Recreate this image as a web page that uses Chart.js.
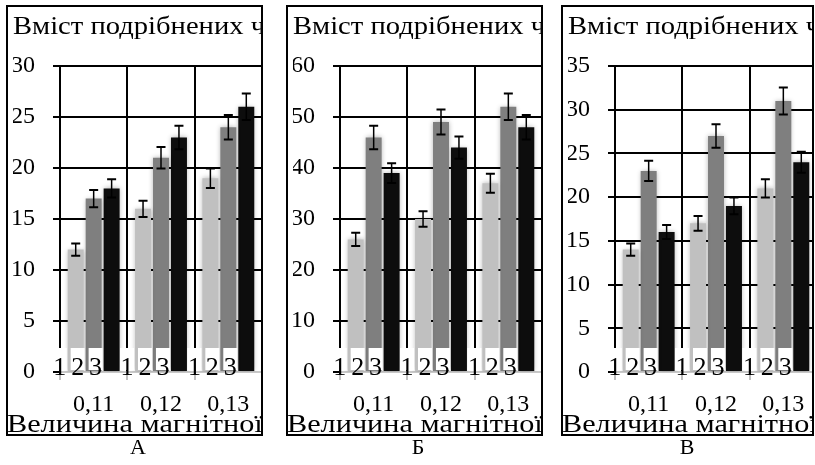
<!DOCTYPE html>
<html>
<head>
<meta charset="utf-8">
<script src="https://cdn.jsdelivr.net/npm/chart.js@4.4.0/dist/chart.umd.min.js"></script>
<style>
  body { margin: 0; background: #fff; width: 815px; height: 465px; position: relative; overflow: hidden;
         font-family: 'Liberation Serif', 'Times New Roman', serif; color: #000; }
  .panel { position: absolute; top: 5px; height: 431px; box-sizing: border-box; border: 2px solid #000;
           overflow: hidden; background: #fff; }
  .panel canvas { position: absolute; left: 0; top: 0; }
  .ptitle { position: absolute; left: 5px; top: 6px; font-size: 26px; line-height: 26px; white-space: nowrap;
            transform: scaleX(1.1); transform-origin: 0 0; }
  .xtitle { position: absolute; left: -1px; top: 404px; font-size: 25px; line-height: 25px; white-space: nowrap;
            transform: scaleX(1.21); transform-origin: 0 0; }
  .letter { position: absolute; top: 436px; width: 40px; font-size: 22px; line-height: 22px; text-align: center; }
</style>
</head>
<body>
<div class="panel" style="left:6px;width:257px">
  <canvas id="chartA" width="280" height="427"></canvas>
  <div class="ptitle">Вміст подрібнених частинок, %</div>
  <div class="xtitle">Величина магнітної індукції, Тл</div>
</div>
<div class="panel" style="left:286px;width:257px">
  <canvas id="chartB" width="280" height="427"></canvas>
  <div class="ptitle">Вміст подрібнених частинок, %</div>
  <div class="xtitle">Величина магнітної індукції, Тл</div>
</div>
<div class="panel" style="left:561px;width:253px">
  <canvas id="chartC" width="280" height="427"></canvas>
  <div class="ptitle">Вміст подрібнених частинок, %</div>
  <div class="xtitle">Величина магнітної індукції, Тл</div>
</div>
<div class="letter" style="left:118px">А</div>
<div class="letter" style="left:398px">Б</div>
<div class="letter" style="left:667px">В</div>

<script>
// категорії (магнітна індукція) і серії 1, 2, 3
var categories = ['0,11', '0,12', '0,13'];
var seriesLabels = ['1', '2', '3'];
var seriesColors = ['#c0c0c0', '#7f7f7f', '#0d0d0d'];

// А
var aSeries1 = [12, 16, 19];
var aSeries2 = [17, 21, 24];
var aSeries3 = [18, 23, 26];
var aErr1 = [0.6, 0.8, 0.95];
var aErr2 = [0.85, 1.05, 1.2];
var aErr3 = [0.9, 1.15, 1.3];
var aAxis = [0, 30, 5]; // min, max, крок

// Б
var bSeries1 = [26, 30, 37];
var bSeries2 = [46, 49, 52];
var bSeries3 = [39, 44, 48];
var bErr1 = [1.3, 1.5, 1.85];
var bErr2 = [2.3, 2.45, 2.6];
var bErr3 = [1.95, 2.2, 2.4];
var bAxis = [0, 60, 10];

// В
var cSeries1 = [14, 17, 21];
var cSeries2 = [23, 27, 31];
var cSeries3 = [16, 19, 24];
var cErr1 = [0.7, 0.85, 1.05];
var cErr2 = [1.15, 1.35, 1.55];
var cErr3 = [0.8, 0.95, 1.2];
var cAxis = [0, 35, 5];

var FONT = "'Liberation Serif', 'Times New Roman', serif";

// тінь під стовпчиками, похибки і підписи 1 2 3
var barExtras = {
    id: 'barExtras',
    beforeDatasetsDraw: function (chart) {
        var ctx = chart.ctx;
        ctx.save();
        ctx.shadowColor = 'rgba(0,0,0,0.3)';
        ctx.shadowBlur = 5;
    },
    afterDatasetsDraw: function (chart) {
        var ctx = chart.ctx;
        ctx.restore();
        var y = chart.scales.y;
        var bottom = chart.chartArea.bottom;
        ctx.save();
        chart.data.datasets.forEach(function (ds, i) {
            chart.getDatasetMeta(i).data.forEach(function (bar, j) {
                var v = ds.data[j], e = ds.errors[j];
                var y1 = y.getPixelForValue(v + e), y2 = y.getPixelForValue(v - e);
                ctx.strokeStyle = '#000';
                ctx.lineWidth = 1.5;
                ctx.beginPath();
                ctx.moveTo(bar.x, y1); ctx.lineTo(bar.x, y2);
                ctx.stroke();
                ctx.lineWidth = 2;
                ctx.beginPath();
                ctx.moveTo(bar.x - 4.5, y1); ctx.lineTo(bar.x + 4.5, y1);
                ctx.moveTo(bar.x - 4.5, y2); ctx.lineTo(bar.x + 4.5, y2);
                ctx.stroke();

                var lx = bar.x - 16;
                ctx.fillStyle = '#fff';
                ctx.fillRect(lx - 7, bottom - 24, 14, 22);
                ctx.fillStyle = '#000';
                ctx.font = '26px ' + FONT;
                ctx.textAlign = 'center';
                ctx.textBaseline = 'alphabetic';
                ctx.fillText(ds.label, lx, bottom + 3);
            });
        });
        ctx.restore();
    }
};

function makeChart(id, s1, s2, s3, e1, e2, e3, axis) {
    var ctx = document.getElementById(id).getContext('2d');
    return new Chart(ctx, {
        type: 'bar',
        data: {
            labels: categories,
            datasets: [
                { label: seriesLabels[0], data: s1, errors: e1, backgroundColor: seriesColors[0] },
                { label: seriesLabels[1], data: s2, errors: e2, backgroundColor: seriesColors[1] },
                { label: seriesLabels[2], data: s3, errors: e3, backgroundColor: seriesColors[2] }
            ]
        },
        options: {
            responsive: false,
            animation: false,
            categoryPercentage: 0.8,
            barPercentage: 0.89,
            layout: { padding: { left: 5, right: 26, top: 59, bottom: 0 } },
            plugins: {
                legend: { display: false },
                title: { display: false },
                tooltip: { enabled: false }
            },
            scales: {
                x: {
                    afterFit: function (scale) { scale.height = 62; },
                    grid: { offset: true, color: '#000', lineWidth: 2, tickLength: 8, tickColor: '#c0c0c0' },
                    border: { color: '#c8c8c8', width: 2 },
                    ticks: { color: '#000', padding: 10, font: { family: FONT, size: 24 } }
                },
                y: {
                    min: axis[0],
                    max: axis[1],
                    afterFit: function (scale) { scale.width = 47; },
                    grid: {
                        color: function (c) { return c.tick && c.tick.value === 0 ? '#c8c8c8' : '#000'; },
                        lineWidth: 2, tickLength: 7, tickColor: '#000'
                    },
                    border: { color: '#000', width: 2 },
                    ticks: { stepSize: axis[2], color: '#000', padding: 18, font: { family: FONT, size: 24 } }
                }
            }
        },
        plugins: [barExtras]
    });
}

makeChart('chartA', aSeries1, aSeries2, aSeries3, aErr1, aErr2, aErr3, aAxis);
makeChart('chartB', bSeries1, bSeries2, bSeries3, bErr1, bErr2, bErr3, bAxis);
makeChart('chartC', cSeries1, cSeries2, cSeries3, cErr1, cErr2, cErr3, cAxis);
</script>
</body>
</html>
